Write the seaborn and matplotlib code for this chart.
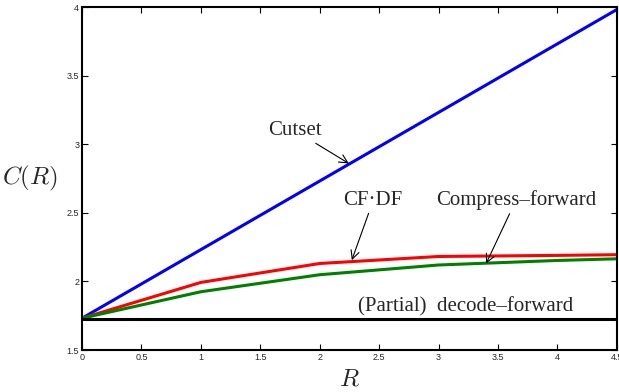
import seaborn as sns
import matplotlib.pyplot as plt
import pandas as pd

R = [0, 1, 2, 3, 4, 4.5]
cutset = [1.732, 2.232, 2.732, 3.232, 3.732, 3.982]
cf_df = [1.732, 1.993, 2.131, 2.182, 2.190, 2.195]
compress_fwd = [1.732, 1.925, 2.049, 2.120, 2.153, 2.165]
decode_fwd = [1.728, 1.728, 1.728, 1.728, 1.728, 1.728]

series = {
    "Cutset": cutset,
    "CF-DF": cf_df,
    "Compress-forward": compress_fwd,
    "Decode-forward": decode_fwd,
}
colours = {
    "Cutset": "#0000ff",
    "CF-DF": "#ff0000",
    "Compress-forward": "#008000",
    "Decode-forward": "#000000",
}

df = pd.concat(
    [pd.DataFrame({"R": R, "C": vals, "scheme": name}) for name, vals in series.items()]
)

sns.set_style("ticks")
plt.rcParams["font.family"] = ["Liberation Sans", "DejaVu Sans"]
plt.rcParams["mathtext.fontset"] = "cm"

fig = plt.figure(figsize=(6.19, 3.92), dpi=100)
ax = fig.add_axes([0.1325, 0.107, 0.864, 0.875])

sns.lineplot(
    data=df, x="R", y="C", hue="scheme", palette=colours,
    linewidth=2.2, legend=False, ax=ax, sort=False,
)

ax.set_xlim(0, 4.5)
ax.set_ylim(1.5, 4)
ax.set_xticks([0, 0.5, 1, 1.5, 2, 2.5, 3, 3.5, 4, 4.5])
ax.set_xticklabels(["0", "0.5", "1", "1.5", "2", "2.5", "3", "3.5", "4", "4.5"])
ax.set_yticks([1.5, 2, 2.5, 3, 3.5, 4])
ax.set_yticklabels(["1.5", "2", "2.5", "3", "3.5", "4"])
ax.tick_params(direction="in", top=True, right=True, length=4, width=0.8,
               labelsize=6.5, pad=2, color="black")
for sp in ax.spines.values():
    sp.set_linewidth(1.5)
    sp.set_color("black")

ax.set_xlabel("$R$", fontsize=18, labelpad=3)
ax.set_ylabel("$C(R)$", fontsize=18, rotation=0, ha="center", va="center")
ax.yaxis.set_label_coords(-0.097, 0.5)

serif = ["Liberation Serif", "DejaVu Serif"]
arrow = dict(arrowstyle="->", color="black", lw=0.8, shrinkA=0, shrinkB=0)
ax.annotate("Cutset", xy=(2.245, 2.86), xytext=(1.79, 3.1), fontsize=15,
            family=serif, ha="center", va="center", arrowprops=arrow)
ax.annotate("CF\u00b7DF", xy=(2.27, 2.155), xytext=(2.45, 2.59), fontsize=15,
            family=serif, ha="center", va="center", arrowprops=arrow)
ax.annotate("Compress\u2013forward", xy=(3.40, 2.13), xytext=(3.65, 2.59),
            fontsize=15, family=serif, ha="center", va="center", arrowprops=arrow)
ax.text(3.23, 1.817, "(Partial)  decode\u2013forward", fontsize=15, family=serif,
        ha="center", va="center")

fig.savefig("out.png", dpi=100)
